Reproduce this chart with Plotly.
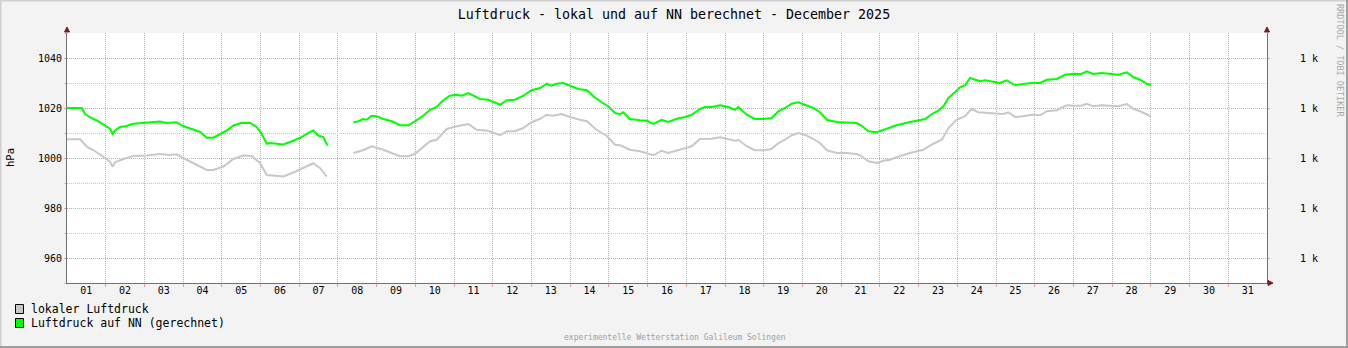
import plotly.graph_objects as go

# Luftdruck im Dezember 2025, Zeitachse in Tagen ab 01.12. 00:00
# (None markiert die Datenlücke am 07./08.12.)
t_nn = [0.00, 0.38, 0.47, 0.59, 0.77, 0.94, 1.11, 1.18, 1.24, 1.37, 1.54, 1.71,
        1.97, 2.14, 2.40, 2.57, 2.83, 3.00, 3.26, 3.44, 3.61, 3.78, 3.95, 4.13,
        4.30, 4.51, 4.73, 4.90, 5.03, 5.16, 5.24, 5.42, 5.59, 5.76, 6.02, 6.19,
        6.36, 6.49, 6.62, 6.71, 6.75,
        7.00,
        7.40, 7.53, 7.65, 7.74, 7.87, 8.00, 8.17, 8.39, 8.60, 8.82, 8.99, 9.20,
        9.38, 9.55, 9.72, 9.89, 10.07, 10.20, 10.37, 10.50, 10.67, 10.88, 11.06,
        11.19, 11.36, 11.57, 11.79, 12.00, 12.22, 12.39, 12.52, 12.65, 12.82,
        12.99, 13.21, 13.43, 13.60, 13.81, 13.98, 14.16, 14.29, 14.37, 14.54,
        14.80, 14.98, 15.15, 15.36, 15.53, 15.75, 15.96, 16.14, 16.35, 16.48,
        16.66, 16.87, 17.08, 17.26, 17.34, 17.56, 17.77, 17.99, 18.20, 18.38,
        18.55, 18.72, 18.89, 19.07, 19.28, 19.45, 19.63, 19.88, 20.14, 20.40,
        20.53, 20.70, 20.92, 21.09, 21.26, 21.43, 21.78, 22.04, 22.17, 22.34,
        22.51, 22.64, 22.77, 22.94, 23.07, 23.20, 23.33, 23.46, 23.59, 23.72,
        23.89, 24.10, 24.28, 24.49, 24.70, 24.92, 25.14, 25.31, 25.57, 25.78,
        26.00, 26.21, 26.34, 26.51, 26.73, 26.94, 27.16, 27.38, 27.55, 27.72,
        27.89, 28.00]
p_nn = [1020.0, 1020.0, 1017.6, 1016.3, 1015.0, 1013.4, 1011.7, 1009.7, 1011.0,
        1012.4, 1012.8, 1013.7, 1014.0, 1014.0, 1014.6, 1014.0, 1014.3, 1012.8,
        1011.3, 1010.4, 1008.1, 1008.1, 1009.5, 1011.0, 1013.0, 1014.1, 1014.0,
        1012.4, 1009.7, 1005.7, 1006.0, 1005.7, 1005.4, 1006.4, 1008.0, 1009.7,
        1011.0, 1009.0, 1008.4, 1005.4, 1005.4,
        None,
        1014.3, 1014.7, 1015.6, 1015.3, 1016.9, 1016.7, 1015.6, 1014.7, 1013.1,
        1013.1, 1014.7, 1016.9, 1019.3, 1020.4, 1023.1, 1024.9, 1025.3, 1024.9,
        1026.0, 1024.9, 1023.6, 1023.3, 1022.3, 1021.3, 1023.1, 1023.3, 1024.9,
        1027.1, 1028.0, 1029.7, 1028.9, 1029.7, 1030.0, 1028.9, 1027.6, 1027.1,
        1024.7, 1022.3, 1020.7, 1018.0, 1017.5, 1018.3, 1015.6, 1015.1, 1014.9,
        1013.6, 1015.3, 1014.4, 1015.7, 1016.4, 1017.3, 1019.6, 1020.4, 1020.4,
        1021.1, 1020.4, 1019.3, 1020.4, 1017.3, 1015.6, 1015.6, 1016.0, 1018.7,
        1020.0, 1021.7, 1022.3, 1021.3, 1020.0, 1018.3, 1015.3, 1014.4, 1014.3,
        1014.0, 1012.9, 1010.7, 1010.3, 1011.3, 1012.0, 1013.1, 1014.4, 1015.3,
        1015.6, 1017.6, 1018.9, 1020.7, 1024.0, 1026.3, 1028.3, 1029.1, 1032.0,
        1031.3, 1030.7, 1031.1, 1030.7, 1030.0, 1031.1, 1029.1, 1029.6, 1030.0,
        1030.0, 1031.3, 1031.6, 1033.3, 1033.7, 1033.6, 1034.7, 1033.6, 1034.0,
        1033.6, 1033.3, 1034.3, 1032.3, 1031.3, 1029.7, 1029.1]

t_lokal = [0.00, 0.34, 0.51, 0.68, 0.94, 1.11, 1.18, 1.24, 1.46, 1.71, 2.06, 2.40,
           2.66, 2.83, 3.09, 3.35, 3.61, 3.78, 4.04, 4.30, 4.55, 4.77, 4.99, 5.16,
           5.42, 5.59, 5.85, 6.19, 6.36, 6.54, 6.71,
           7.00,
           7.40, 7.65, 7.87, 8.17, 8.60, 8.82, 8.99, 9.38, 9.55, 9.81, 10.07,
           10.37, 10.58, 10.88, 11.19, 11.36, 11.57, 11.79, 12.00, 12.22, 12.39,
           12.56, 12.78, 12.99, 13.25, 13.43, 13.68, 13.94, 14.16, 14.29, 14.54,
           14.80, 15.15, 15.36, 15.53, 15.96, 16.14, 16.35, 16.66, 16.87, 17.08,
           17.26, 17.34, 17.56, 17.77, 17.99, 18.20, 18.38, 18.55, 18.72, 18.89,
           19.07, 19.28, 19.45, 19.63, 19.88, 20.14, 20.40, 20.53, 20.70, 20.92,
           21.09, 21.26, 21.43, 21.78, 22.12, 22.38, 22.60, 22.77, 22.98, 23.20,
           23.37, 23.54, 23.76, 23.97, 24.19, 24.32, 24.49, 24.70, 24.92, 25.14,
           25.31, 25.57, 25.82, 26.00, 26.21, 26.34, 26.51, 26.73, 26.94, 27.16,
           27.38, 27.55, 27.72, 27.89, 28.00]
p_lokal = [1007.5, 1007.5, 1004.5, 1003.2, 1000.5, 998.5, 996.5, 998.3, 999.6,
           1000.8, 1001.0, 1001.6, 1001.2, 1001.5, 999.3, 997.2, 995.2, 995.2,
           996.6, 999.6, 1001.0, 1000.8, 997.9, 993.2, 992.8, 992.6, 994.2, 996.6,
           997.9, 995.9, 992.6,
           None,
           1002.0, 1003.1, 1004.7, 1003.3, 1000.7, 1000.7, 1001.7, 1006.7, 1007.3,
           1011.6, 1012.7, 1013.6, 1011.3, 1010.9, 1009.1, 1010.7, 1010.7, 1012.0,
           1014.3, 1015.7, 1017.3, 1016.9, 1017.6, 1016.4, 1015.3, 1014.7, 1011.3,
           1008.9, 1005.3, 1005.1, 1003.3, 1002.7, 1001.1, 1002.9, 1002.0, 1004.0,
           1004.7, 1007.6, 1007.7, 1008.3, 1007.6, 1006.9, 1007.3, 1004.7, 1003.1,
           1003.1, 1003.6, 1006.0, 1007.3, 1009.1, 1010.0, 1009.3, 1007.6, 1006.0,
           1003.1, 1002.0, 1002.0, 1001.6, 1000.7, 998.7, 998.0, 998.9, 999.3,
           1000.3, 1002.0, 1003.3, 1005.7, 1007.3, 1012.0, 1015.3, 1016.7, 1019.7,
           1018.3, 1018.0, 1017.6, 1017.6, 1018.3, 1016.4, 1016.7, 1017.3, 1017.1,
           1018.7, 1019.1, 1021.1, 1020.9, 1020.9, 1021.7, 1020.7, 1021.1, 1020.9,
           1020.7, 1021.6, 1019.7, 1018.7, 1017.6, 1016.7]

day_labels = ["01", "02", "03", "04", "05", "06", "07", "08", "09", "10", "11",
              "12", "13", "14", "15", "16", "17", "18", "19", "20", "21", "22",
              "23", "24", "25", "26", "27", "28", "29", "30", "31"]
y_major = [960, 980, 1000, 1020, 1040]
y_minor = [950, 970, 990, 1010, 1030, 1050]
right_labels = ["1 k", "1 k", "1 k", "1 k", "1 k"]

name_lokal = "lokaler Luftdruck"
name_nn = "Luftdruck auf NN (gerechnet)"
title = "Luftdruck - lokal und auf NN berechnet - December 2025"
footer = "experimentelle Wetterstation Galileum Solingen"
credit = "RRDTOOL / TOBI OETIKER"

COL_LOKAL = "#C8C8C8"
COL_NN = "#00FF00"
MGRID = "#E4A0A0"
GRID = "#C8C8C8"
AXIS = "#707070"
ARROW = "#7F1A1A"
FONT = "DejaVu Sans Mono"

W, H = 1348, 348
L, R, T, B = 67, 1267, 33, 283


def fx(px):
    return (px - L) / (R - L)


def fy(py):
    return (B - py) / (B - T)


fig = go.Figure()
fig.add_trace(go.Scatter(x=t_lokal, y=p_lokal, mode="lines", name=name_lokal,
                         line=dict(color=COL_LOKAL, width=2), connectgaps=False,
                         showlegend=False))
fig.add_trace(go.Scatter(x=t_nn, y=p_nn, mode="lines", name=name_nn,
                         line=dict(color=COL_NN, width=2), connectgaps=False,
                         showlegend=False))
# leere Spur, damit die rechte Achse gezeichnet wird
fig.add_trace(go.Scatter(x=[None], y=[None], yaxis="y2", showlegend=False,
                         hoverinfo="skip"))

shapes = []
# 3D-Rahmen um die Grafik
shapes.append(dict(type="line", xref="paper", yref="paper", x0=fx(0), x1=fx(W),
                   y0=fy(0.5), y1=fy(0.5), line=dict(color="#CFCFCF", width=2)))
shapes.append(dict(type="line", xref="paper", yref="paper", x0=fx(0.5), x1=fx(0.5),
                   y0=fy(0), y1=fy(H), line=dict(color="#CFCFCF", width=2)))
shapes.append(dict(type="line", xref="paper", yref="paper", x0=fx(0), x1=fx(W),
                   y0=fy(H - 1), y1=fy(H - 1), line=dict(color="#9E9E9E", width=2)))
shapes.append(dict(type="line", xref="paper", yref="paper", x0=fx(W - 1), x1=fx(W - 1),
                   y0=fy(0), y1=fy(H), line=dict(color="#9E9E9E", width=2)))


def tri(points):
    d = "M " + " L ".join(f"{fx(a):.5f},{fy(b):.5f}" for a, b in points) + " Z"
    return dict(type="path", xref="paper", yref="paper", path=d,
                fillcolor=ARROW, line=dict(color=ARROW, width=1))


# Pfeilspitzen der Achsen
shapes.append(tri([(64.5, 32), (69.5, 32), (67, 27)]))
shapes.append(tri([(R - 2.5, 32), (R + 2.5, 32), (R, 27)]))
shapes.append(tri([(R + 1, B - 2.5), (R + 1, B + 2.5), (R + 6, B)]))

# Legende
for (yc, col) in [(309, COL_LOKAL), (323, COL_NN)]:
    shapes.append(dict(type="rect", xref="paper", yref="paper",
                       x0=fx(15.5), x1=fx(23.5), y0=fy(yc - 4.5), y1=fy(yc + 4.5),
                       fillcolor=col, line=dict(color="#000000", width=1)))


def label(text, x, y, size, color="#000000", angle=0, xanchor="center"):
    return dict(text=text, xref="paper", yref="paper", x=fx(x), y=fy(y),
                xanchor=xanchor, yanchor="middle", showarrow=False,
                textangle=angle, font=dict(family=FONT, size=size, color=color))


annotations = [
    label("hPa", 10, 158, 10.5, angle=-90),
    label(credit, 1340, 60, 8.5, color="#A8A8A8", angle=90),
    label(footer, 675, 337, 8, color="#A0A0A0"),
    label(name_lokal, 29, 309, 11.5, xanchor="left"),
    label(name_nn, 29, 323, 11.5, xanchor="left"),
]

fig.update_layout(
    width=W, height=H,
    margin=dict(l=L, r=W - R, t=T, b=H - B, pad=0),
    paper_bgcolor="#F3F3F3", plot_bgcolor="#FFFFFF",
    font=dict(family=FONT, size=10, color="#000000"),
    title=dict(text=title, x=0.5, xref="container", xanchor="center",
               y=1 - 14 / H, yref="container", yanchor="middle",
               font=dict(family=FONT, size=13.3, color="#000000")),
    showlegend=False,
    xaxis=dict(range=[0, 31], tickmode="array",
               tickvals=[i + 0.5 for i in range(31)], ticktext=day_labels,
               showgrid=False, ticks="", ticklabelstandoff=-2,
               zeroline=False, showline=True, linecolor=AXIS, linewidth=1,
               tickfont=dict(size=10),
               minor=dict(tickmode="array", tickvals=list(range(1, 31)),
                          showgrid=True, gridcolor=MGRID, griddash="1px,1px",
                          gridwidth=1, ticks="outside", ticklen=3, tickcolor=MGRID)),
    yaxis=dict(range=[950, 1050], tickmode="array", tickvals=y_major,
               ticktext=[str(v) for v in y_major],
               showgrid=True, gridcolor=MGRID, griddash="1px,1px", gridwidth=1,
               ticks="outside", ticklen=2, tickcolor=MGRID,
               zeroline=False, showline=True, linecolor=AXIS, linewidth=1,
               tickfont=dict(size=10),
               minor=dict(tickmode="array", tickvals=y_minor, showgrid=True,
                          gridcolor=GRID, griddash="1px,1px", gridwidth=1,
                          ticks="outside", ticklen=2, tickcolor=GRID)),
    yaxis2=dict(range=[950, 1050], overlaying="y", side="right",
                tickmode="array", tickvals=y_major, ticktext=right_labels,
                showgrid=False, zeroline=False, showline=True, linecolor=AXIS,
                linewidth=1, ticks="outside", ticklen=2, tickcolor=MGRID,
                ticklabelstandoff=28, tickfont=dict(size=10)),
    shapes=shapes,
    annotations=annotations,
)

fig.write_html("out.html")
